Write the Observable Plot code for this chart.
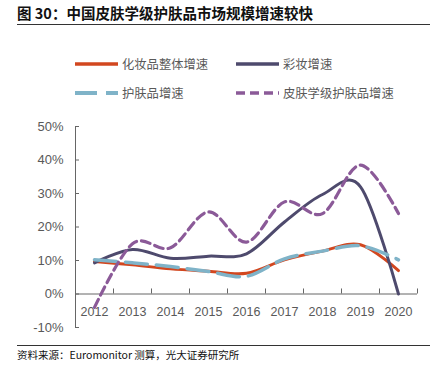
<!DOCTYPE html>
<html>
<head>
<meta charset="utf-8">
<script src="https://cdn.jsdelivr.net/npm/d3@7"></script>
<script src="https://cdn.jsdelivr.net/npm/@observablehq/plot@0.6"></script>
<style>
  html, body { margin: 0; padding: 0; background: #fff; }
  #wrap { position: relative; width: 432px; height: 371px; overflow: hidden; font-family: "Noto Sans CJK SC", "Noto Sans", sans-serif; }
  #title { position: absolute; left: 17px; top: 2px; font-size: 14.5px; font-weight: bold; color: #111; white-space: nowrap; }
  .hr { position: absolute; left: 17px; width: 413px; height: 0; border-top: 1px solid #333; }
  #source { position: absolute; left: 17px; top: 347px; font-size: 10.5px; color: #111; white-space: nowrap; }
  #chart { position: absolute; left: 0; top: 0; }
  .leg { position: absolute; display: flex; align-items: center; font-size: 12.3px; color: #595959; white-space: nowrap; }
  .leg svg { margin-right: 4px; }
</style>
</head>
<body>
<div id="wrap">
  <div id="chart"></div>
  <div id="title">图 30：中国皮肤学级护肤品市场规模增速较快</div>
  <div class="hr" style="top:24px"></div>
  <div id="legend"></div>
  <div class="hr" style="top:345px"></div>
  <div id="source">资料来源：Euromonitor 测算，光大证券研究所</div>
</div>
<script>
const years = [2012, 2013, 2014, 2015, 2016, 2017, 2018, 2019, 2020];
const seriesNames = ["化妆品整体增速", "彩妆增速", "护肤品增速", "皮肤学级护肤品增速"];
const cosmetics = [9.7, 8.7, 7.5, 6.8, 6.2, 10.2, 12.8, 14.7, 7.0];
const makeup = [9.3, 13.3, 10.7, 11.3, 12.0, 21.5, 29.7, 32.0, 0.0];
const skincare = [10.2, 9.3, 8.2, 6.7, 5.3, 10.5, 12.8, 14.4, 10.2];
const dermo = [-4.0, 15.0, 13.8, 24.5, 15.5, 27.5, 24.0, 38.5, 24.0];
const yTicks = [-10, 0, 10, 20, 30, 40, 50];
const xBoundaries = [2012.5, 2013.5, 2014.5, 2015.5, 2016.5, 2017.5, 2018.5, 2019.5, 2020.5];

const styles = [
  {stroke: "#D2471F", width: 3, dash: null},
  {stroke: "#4E4A6D", width: 3, dash: null},
  {stroke: "#7FB3C8", width: 3.5, dash: "22,9"},
  {stroke: "#8B5A98", width: 3.2, dash: "9,5"}
];
const values = [cosmetics, makeup, skincare, dermo];

const lineMarks = values.map((vals, i) => {
  const data = years.map((y, j) => ({year: y, value: vals[j]}));
  return Plot.line(data, {
    x: "year", y: "value",
    stroke: styles[i].stroke, strokeWidth: styles[i].width,
    strokeDasharray: styles[i].dash,
    curve: "cardinal", tension: 0
  });
});

const axisColor = "#666";
const labelFont = '"Liberation Sans", Arial, sans-serif';

const chart = Plot.plot({
  width: 432, height: 371,
  marginTop: 126, marginBottom: 44, marginLeft: 75, marginRight: 15,
  x: {type: "linear", domain: [2011.5, 2020.5], axis: null},
  y: {domain: [-10, 50], axis: null},
  style: {background: "transparent", fontFamily: labelFont},
  marks: [
    Plot.axisY(yTicks, {label: null, tickSize: -4, tickPadding: 16, tickFormat: d => d + "%", fontSize: 13, color: "#595959", stroke: axisColor}),
    Plot.frame({anchor: "left", stroke: axisColor}),
    Plot.ruleY([0], {stroke: axisColor}),
    Plot.ruleX(xBoundaries, {x: d => d, y1: 0, y2: 1.5, stroke: axisColor}),
    Plot.text(years, {x: d => d, y: 0, dy: 18, text: d => String(d), fontSize: 12.5, fill: "#595959"}),
    ...lineMarks
  ]
});
document.getElementById("chart").appendChild(chart);

// Legend
const legendPos = [
  {left: 75, top: 55},
  {left: 236, top: 55},
  {left: 75, top: 84},
  {left: 236, top: 84}
];
const legend = document.getElementById("legend");
seriesNames.forEach((name, i) => {
  const d = document.createElement("div");
  d.className = "leg";
  d.style.left = legendPos[i].left + "px";
  d.style.top = legendPos[i].top + "px";
  const s = styles[i];
  d.innerHTML = `<svg width="43" height="16"><line x1="0" y1="8" x2="43" y2="8" stroke="${s.stroke}" stroke-width="${s.width + 0.5}" ${s.dash ? `stroke-dasharray="${s.dash}"` : ""}/></svg><span>${name}</span>`;
  legend.appendChild(d);
});
</script>
</body>
</html>
